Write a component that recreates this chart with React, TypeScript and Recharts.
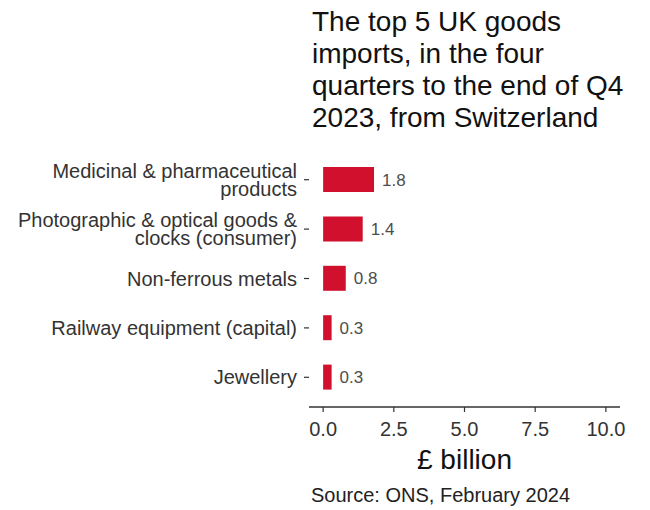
import React from "react";
import { Bar, BarChart, LabelList, XAxis, YAxis } from "recharts";

const CATEGORIES = [
  "Medicinal & pharmaceutical\nproducts",
  "Photographic & optical goods &\nclocks (consumer)",
  "Non-ferrous metals",
  "Railway equipment (capital)",
  "Jewellery",
];
const VALUES = [1.8, 1.4, 0.8, 0.3, 0.3];
const X_TICKS = [0, 2.5, 5, 7.5, 10];
const TITLE_LINES = [
  "The top 5 UK goods",
  "imports, in the four",
  "quarters to the end of Q4",
  "2023, from Switzerland",
];
const X_LABEL = "£ billion";
const SOURCE = "Source: ONS, February 2024";

const FONT = '"Liberation Sans", Arial, sans-serif';
const BAR_RED = "#d0102c";

const data = CATEGORIES.map((name, i) => ({ name, value: VALUES[i] }));

// right-aligned, possibly two-line category labels
function CategoryTick(props: any) {
  const { x, y, payload } = props;
  const lines = String(payload.value).split("\n");
  const first = lines.length === 1 ? 7 : -2;
  return (
    <text x={x} y={y} textAnchor="end" fontSize={20} fill="#333" fontFamily={FONT}>
      {lines.map((line, i) => (
        <tspan key={i} x={x} y={y + first + i * 18}>
          {line}
        </tspan>
      ))}
    </text>
  );
}

export default function App() {
  return (
    <div
      style={{
        position: "absolute",
        left: 0,
        top: 0,
        width: 650,
        height: 510,
        background: "#fff",
        fontFamily: FONT,
      }}
    >
      <div
        style={{
          position: "absolute",
          left: 312,
          top: 6,
          fontSize: 28,
          lineHeight: "32px",
          color: "#111",
          whiteSpace: "nowrap",
        }}
      >
        {TITLE_LINES.map((l) => (
          <div key={l}>{l}</div>
        ))}
      </div>

      <BarChart
        width={650}
        height={510}
        data={data}
        layout="vertical"
        margin={{ top: 150, right: 30, bottom: 73, left: 0 }}
        style={{ position: "absolute", left: 0, top: 0 }}
      >
        <XAxis
          type="number"
          domain={[-0.5, 10.5]}
          ticks={X_TICKS}
          tickFormatter={(v: number) => v.toFixed(1)}
          height={30}
          tickSize={5}
          tickMargin={10}
          axisLine={{ stroke: "#333", strokeWidth: 1.6 }}
          tickLine={{ stroke: "#333", strokeWidth: 1.2 }}
          tick={{ fontSize: 20, fill: "#333", fontFamily: FONT }}
        />
        <YAxis
          type="category"
          dataKey="name"
          width={309}
          axisLine={false}
          tickSize={5}
          tickMargin={7}
          tickLine={{ stroke: "#333", strokeWidth: 1.2 }}
          tick={<CategoryTick />}
          padding={{ top: 5, bottom: 5 }}
          interval={0}
        />
        <Bar dataKey="value" fill={BAR_RED} barSize={25} isAnimationActive={false}>
          <LabelList
            dataKey="value"
            position="right"
            offset={8}
            formatter={(v: any) => Number(v).toFixed(1)}
            style={{ fontSize: 17, fill: "#4d4d4d", fontFamily: FONT }}
          />
        </Bar>
      </BarChart>

      <div
        style={{
          position: "absolute",
          left: 309,
          width: 311,
          top: 446,
          textAlign: "center",
          fontSize: 28,
          lineHeight: "28px",
          color: "#111",
        }}
      >
        {X_LABEL}
      </div>
      <div
        style={{
          position: "absolute",
          left: 311,
          top: 485,
          fontSize: 20,
          lineHeight: "20px",
          color: "#222",
          whiteSpace: "nowrap",
        }}
      >
        {SOURCE}
      </div>
    </div>
  );
}
